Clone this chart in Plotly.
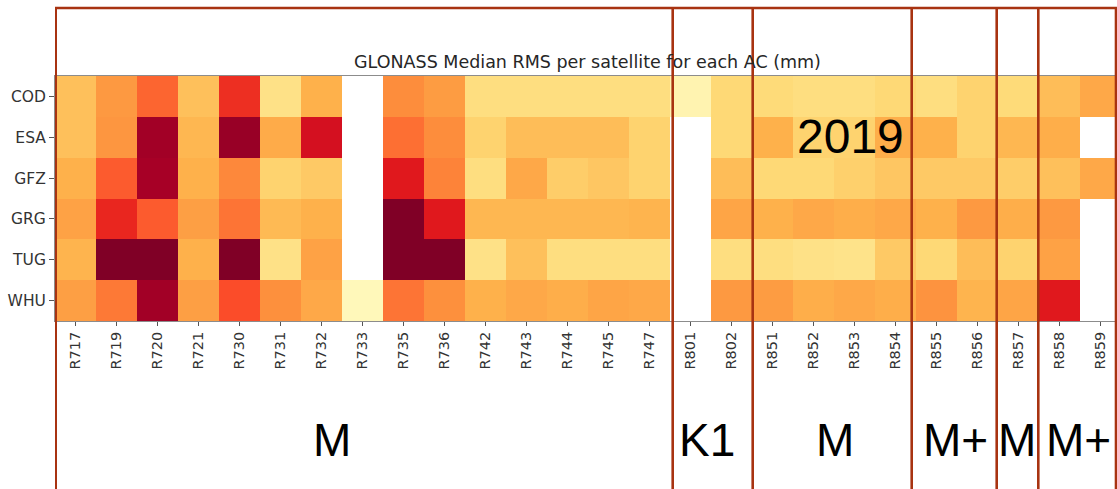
import plotly.graph_objects as go

# ---- data -------------------------------------------------------------
satellites = ["R717", "R719", "R720", "R721", "R730", "R731", "R732", "R733",
              "R735", "R736", "R742", "R743", "R744", "R745", "R747",
              "R801", "R802", "R851", "R852", "R853", "R854", "R855",
              "R856", "R857", "R858", "R859"]
centers = ["COD", "ESA", "GFZ", "GRG", "TUG", "WHU"]
N = None
cod = [16.5, 23, 29, 16.5, 35, 10, 19, N, 25, 22.5, 11, 11, 11, 11, 11,
       4, 12.5, 12, 11, 11, 12.5, 11, 13.5, 12, 17, 20.5]
esa = [16.5, 23.5, 46.5, 18, 47.5, 20, 40, N, 28, 25, 13.5, 17, 17, 17, 13.5,
       N, 12.5, 19, 13.5, 13.5, 19.5, 19, 13.5, 18, 19.5, N]
gfz = [19, 30, 46, 19, 25.5, 13.5, 15, N, 38, 26, 11, 20.5, 14.5, 15.5, 13.5,
       N, 17, 12.5, 12.5, 14, 15.5, 15, 15, 14.5, 16.5, 20.5]
grg = [21.5, 36, 30, 22, 27.5, 17.5, 19, N, 50, 38, 18, 18, 18, 18, 18.5,
       N, 21, 19, 20.5, 19.5, 20.5, 19, 23, 19.5, 23, N]
tug = [18.5, 50, 50, 19, 50, 10, 21.5, N, 50, 50, 10, 16.5, 11, 11, 11,
       N, 11, 11, 10, 9.5, 15, 12.5, 17, 13.5, 21.5, N]
whu = [22, 27, 46.5, 22, 31.5, 24.5, 20.5, 2.5, 27.5, 24.5, 19, 20.5, 19.5, 21, 20.5,
       N, 23, 22.5, 19.5, 20.5, 19.5, 24, 18.5, 21, 38, N]
z_min, z_max = 0, 50

title_text = "GLONASS Median RMS per satellite for each AC (mm)"
year_text = "2019"
group_labels = ["M", "K1", "M", "M+", "M", "M+"]

ylorrd = ["#ffffcc", "#ffeda0", "#fed976", "#feb24c", "#fd8d3c",
          "#fc4e2a", "#e31a1c", "#bd0026", "#800026"]

# ---- layout geometry (pixels) ------------------------------------------
W, H = 1117, 489
L, T, B = 55, 76, 168
plot_w = W - L
plot_h = H - T - B
col_w = 41.0
x_hi = -0.5 + plot_w / col_w

def px_to_x(px):
    return (px - L) / col_w - 0.5

def py_to_paper(py):
    return (H - B - py) / plot_h

RED = "#a83311"

fig = go.Figure()
fig.add_trace(go.Heatmap(
    z=[cod, esa, gfz, grg, tug, whu],
    x=satellites, y=centers,
    zmin=z_min, zmax=z_max,
    colorscale=[[i / (len(ylorrd) - 1), c] for i, c in enumerate(ylorrd)],
    showscale=False, hoverongaps=False,
))

shapes = []
# vertical separators (hand-drawn boxes)
for px in [55.7, 672.7, 752.7, 911.7, 996.7, 1038.3, 1116]:
    shapes.append(dict(type="line", xref="x", yref="paper",
                       x0=px_to_x(px), x1=px_to_x(px),
                       y0=py_to_paper(495), y1=py_to_paper(7.5),
                       line=dict(color=RED, width=2.6)))
shapes.append(dict(type="line", xref="paper", yref="paper",
                   x0=0, x1=1, y0=py_to_paper(8), y1=py_to_paper(8),
                   line=dict(color=RED, width=2.4)))
fig.update_layout(shapes=shapes)

annotations = [
    dict(text=title_text, xref="paper", yref="paper",
         x=(587 - L) / plot_w, y=py_to_paper(62), showarrow=False,
         xanchor="center", yanchor="middle",
         font=dict(family="DejaVu Sans", size=17.5, color="#262626")),
    dict(text=year_text, xref="x", yref="paper",
         x=px_to_x(850), y=py_to_paper(136), showarrow=False,
         xanchor="center", yanchor="middle",
         font=dict(family="Liberation Sans", size=48, color="#000000")),
]
group_px = [332, 707, 835, 955, 1016.7, 1078]
for lab, px in zip(group_labels, group_px):
    annotations.append(dict(text=lab, xref="x", yref="paper",
                            x=px_to_x(px), y=py_to_paper(440), showarrow=False,
                            xanchor="center", yanchor="middle",
                            font=dict(family="Liberation Sans", size=46, color="#000000")))
fig.update_layout(annotations=annotations)

fig.update_layout(
    width=W, height=H,
    margin=dict(l=L, r=0, t=T, b=B, pad=0),
    paper_bgcolor="white", plot_bgcolor="white",
    xaxis=dict(type="category", range=[-0.5, x_hi], tickangle=-90,
               ticks="outside", ticklen=4, tickcolor="#555", tickwidth=1,
               showline=True, linecolor="#8c8c8c", linewidth=1, mirror=True,
               showgrid=False, zeroline=False,
               tickfont=dict(family="DejaVu Sans", size=14.5, color="#333333")),
    yaxis=dict(type="category", range=[5.5, -0.5],
               ticks="outside", ticklen=5, tickcolor="#555", tickwidth=1,
               showline=True, linecolor="#8c8c8c", linewidth=1, mirror=True,
               showgrid=False, zeroline=False,
               tickfont=dict(family="DejaVu Sans", size=15.5, color="#333333")),
)

fig.write_html("out.html", config={"displayModeBar": False})
